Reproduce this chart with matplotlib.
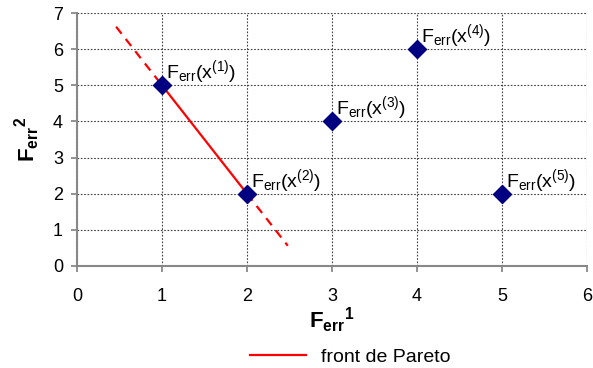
import matplotlib
matplotlib.use("Agg")
import matplotlib.pyplot as plt
from matplotlib.lines import Line2D

plt.rcParams['font.family'] = ['Liberation Sans', 'DejaVu Sans']
plt.rcParams['mathtext.fontset'] = 'custom'
plt.rcParams['mathtext.rm'] = 'Liberation Sans'
plt.rcParams['mathtext.it'] = 'Liberation Sans:italic'
plt.rcParams['mathtext.bf'] = 'Liberation Sans:bold'

# Solutions in objective space
f1 = [1, 2, 3, 4, 5]
f2 = [5, 2, 4, 6, 2]
point_labels = [r'$\mathrm{F_{err}(x^{(%d)})}$' % i for i in range(1, 6)]

# Pareto front: solid between the non-dominated points, dashed extensions
front_x = [1, 2]
front_y = [5, 2]
ext_upper_x = [0.46, 1]
ext_upper_y = [6.62, 5]
ext_lower_x = [2, 2.48]
ext_lower_y = [2, 0.56]

xticks = [0, 1, 2, 3, 4, 5, 6]
yticks = [0, 1, 2, 3, 4, 5, 6, 7]

fig = plt.figure(figsize=(5.93, 3.68), dpi=100)
ax = fig.add_axes([77 / 593, 1 - 266 / 368, (587 - 77) / 593, (266 - 13) / 368])

red = '#FF0000'
ax.plot(front_x, front_y, color=red, lw=1.6, zorder=3)
ax.plot(ext_upper_x, ext_upper_y, color=red, lw=1.6, dashes=(4, 3), zorder=3)
ax.plot(ext_lower_x, ext_lower_y, color=red, lw=1.6, dashes=(4, 3), zorder=3)

ax.plot(f1, f2, linestyle='none', marker='D', ms=9, color='#000080',
        markeredgecolor='#000080', zorder=4)

for x, y, lab in zip(f1, f2, point_labels):
    ax.annotate(lab, (x, y), xytext=(3, 5), textcoords='offset points',
                ha='left', va='baseline', fontsize=14, color='black', zorder=5)

ax.set_xlim(0, 6)
ax.set_ylim(0, 7)
ax.set_xticks(xticks)
ax.set_yticks(yticks)
ax.tick_params(axis='both', labelsize=13, color='#808080', length=4, width=1.2,
               direction='out', pad=6)
ax.tick_params(axis='x', pad=12)

ax.grid(True, linestyle=(0, (1.5, 1.5)), color='#404040', lw=0.8)
ax.set_axisbelow(True)
for side in ('top', 'right'):
    ax.spines[side].set_visible(False)
for side in ('left', 'bottom'):
    ax.spines[side].set_color('#888888')
    ax.spines[side].set_linewidth(1.5)

ax.set_xlabel(r'$\mathbf{F_{err}{}^{1}}$', fontsize=16, labelpad=0)
ax.set_ylabel(r'$\mathbf{F_{err}{}^{2}}$', fontsize=16, labelpad=8)

handle = Line2D([], [], color=red, lw=1.6)
fig.legend([handle], ['front de Pareto'], loc='center',
           bbox_to_anchor=(350 / 593, 1 - 357 / 368), frameon=False, fontsize=14,
           handlelength=2.9, handletextpad=0.75, borderpad=0)

fig.savefig('out.png', dpi=100)
